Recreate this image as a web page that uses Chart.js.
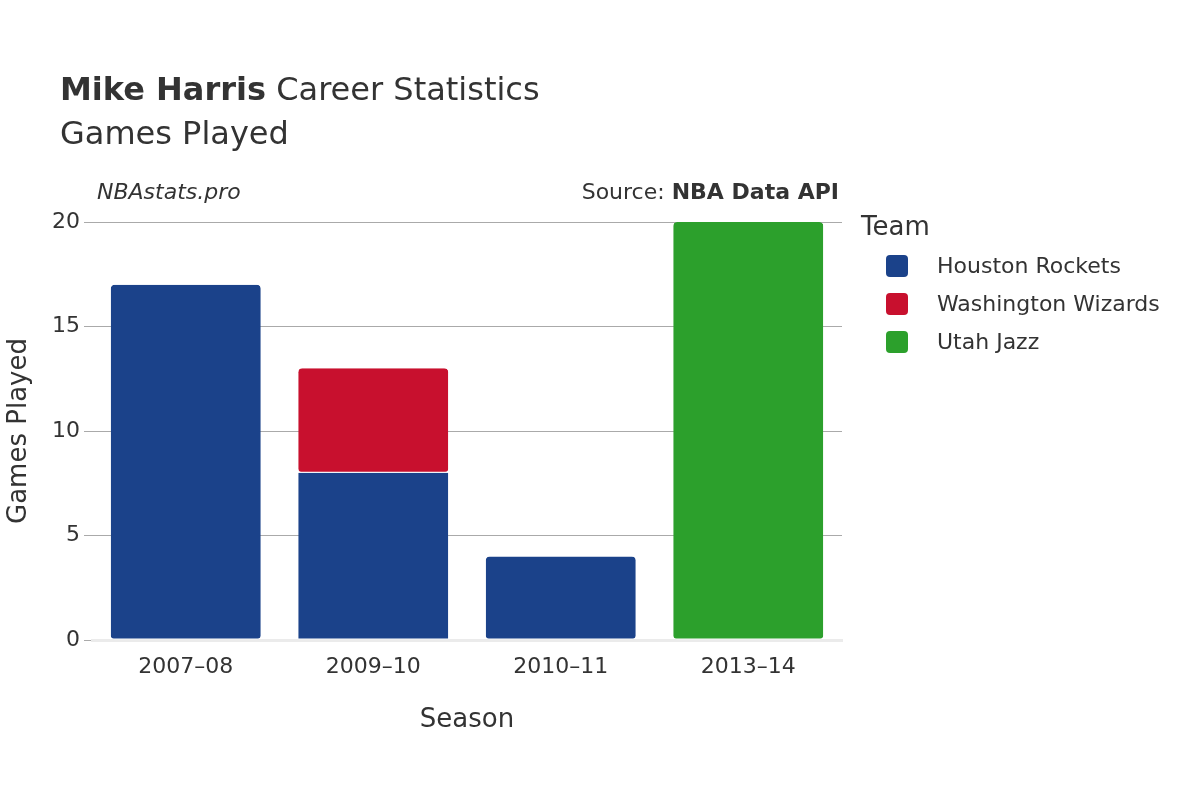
<!DOCTYPE html>
<html><head><meta charset="utf-8">
<script src="https://cdn.jsdelivr.net/npm/chart.js@4"></script>
<style>
body{margin:0;width:1200px;height:800px;background:#fff;font-family:"DejaVu Sans",sans-serif;color:#333;position:relative;overflow:hidden}
#c{position:absolute;left:0;top:0}
.t{position:absolute;white-space:nowrap}
.sw{position:absolute;width:22px;height:22px;border-radius:4px}
</style></head><body>
<canvas id="c" width="1200" height="800"></canvas>
<div class="t" style="left:60px;top:70px;font-size:32px"><b>Mike Harris</b> Career Statistics</div>
<div class="t" style="left:60px;top:114px;font-size:32px">Games Played</div>
<div class="t" style="left:97px;top:179px;font-size:22px;font-style:italic">NBAstats.pro</div>
<div class="t" style="right:361px;top:179px;font-size:22px">Source: <b>NBA Data API</b></div>
<div class="t" style="left:861px;top:211px;font-size:26px">Team</div>
<div id="leg"></div>
<script>
const seasons=["2007–08","2009–10","2010–11","2013–14"];
const teams=["Houston Rockets","Washington Wizards","Utah Jazz"];
const colors=["#1b428a","#c8102e","#2ca02c"];
const houston=[17,8,4,0];
const washington=[0,5,0,0];
const utah=[0,0,0,20];
const yTicks=[0,5,10,15,20];
const vals=[houston,washington,utah];
const leg=document.getElementById('leg');
teams.forEach((t,i)=>{const y=255+i*38;
leg.innerHTML+=`<div class="sw" style="left:886px;top:${y}px;background:${colors[i]}"></div><div class="t" style="left:937px;top:${y-2}px;font-size:22px">${t}</div>`;});
Chart.defaults.font.family='"DejaVu Sans",sans-serif';
Chart.defaults.color='#333';
new Chart(document.getElementById('c'),{type:'bar',
data:{labels:seasons,datasets:teams.map((t,i)=>({label:t,data:vals[i].map(v=>v||null),backgroundColor:colors[i],borderColor:'#fff',borderWidth:{top:0,left:0,right:0,bottom:1},borderRadius:4,borderSkipped:false,categoryPercentage:0.8,barPercentage:1}))},
options:{responsive:false,animation:false,
layout:{padding:{left:0,top:222,right:358,bottom:60}},
plugins:{legend:{display:false},tooltip:{enabled:false}},
scales:{
x:{stacked:true,grid:{display:false},border:{color:'#ebebeb',width:3},ticks:{font:{size:22},padding:6},
title:{display:true,text:'Season',font:{size:26},padding:{top:20}},afterFit:s=>{s.height=100}},
y:{stacked:true,min:0,max:20,afterBuildTicks:s=>{s.ticks=yTicks.map(v=>({value:v}))},
grid:{color:'#aaa'},border:{display:false},ticks:{font:{size:22},padding:4},
title:{display:true,text:'Games Played',font:{size:26},padding:{bottom:10}},afterFit:s=>{s.width=92}}
}}});
</script></body></html>
